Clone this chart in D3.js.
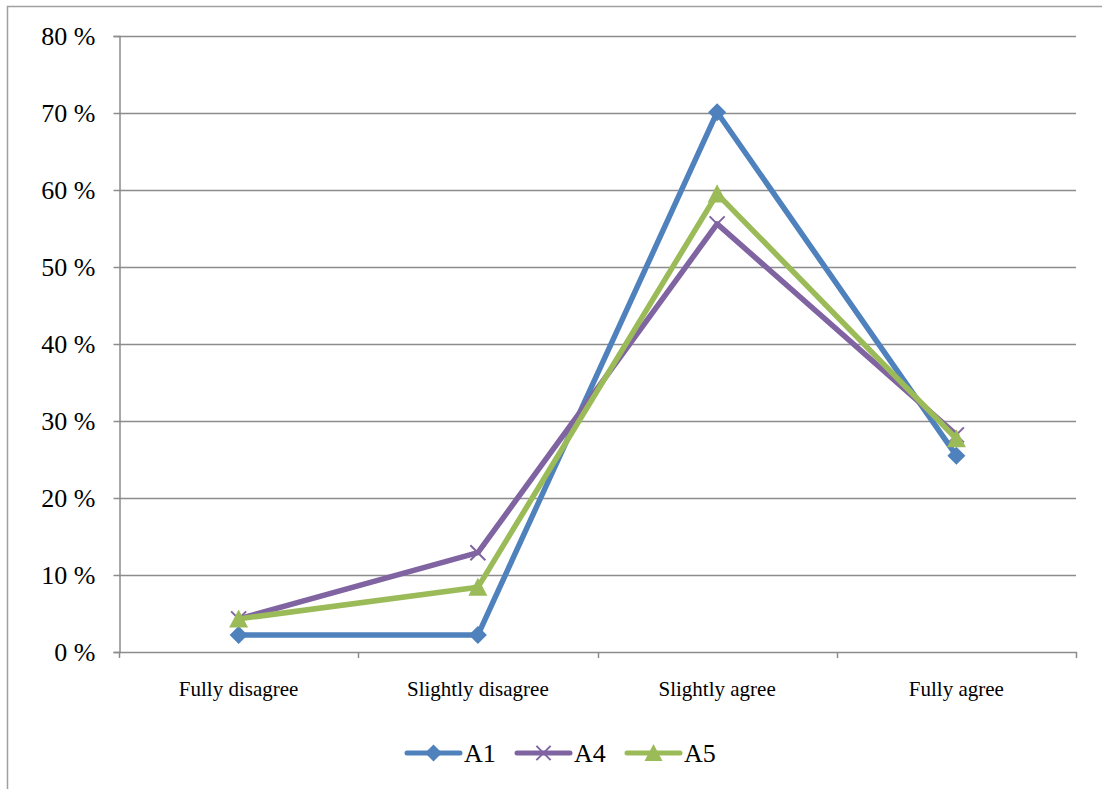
<!DOCTYPE html>
<html>
<head>
<meta charset="utf-8">
<script src="https://cdn.jsdelivr.net/npm/d3@7"></script>
<style>
  html, body { margin: 0; padding: 0; background: #fff; }
  svg { display: block; font-family: "Liberation Serif", "DejaVu Serif", serif; }
</style>
</head>
<body>
<svg id="chart" width="1102" height="789"></svg>
<script>
// Answer categories along the x axis
const categories = ["Fully disagree", "Slightly disagree", "Slightly agree", "Fully agree"];

// Share of answers (%) per item
const seriesNames = ["A1", "A4", "A5"];
const valuesA1 = [2.2, 2.2, 70.1, 25.5];
const valuesA4 = [4.3, 12.9, 55.6, 28.2];
const valuesA5 = [4.3, 8.4, 59.5, 27.7];

// Y axis ticks (%)
const yTicks = [0, 10, 20, 30, 40, 50, 60, 70, 80];

const colors = { A1: "#4F81BD", A4: "#8064A2", A5: "#9BBB59" };
const markers = { A1: "diamond", A4: "cross", A5: "triangle" };

const series = [
  { name: "A1", values: valuesA1 },
  { name: "A4", values: valuesA4 },
  { name: "A5", values: valuesA5 }
];

const svg = d3.select("#chart");
const W = 1102, H = 789;

// Outer chart frame (extends past the right/bottom of the canvas)
svg.append("rect")
  .attr("x", 7.5).attr("y", 6.5)
  .attr("width", W + 20).attr("height", H + 20)
  .attr("fill", "none").attr("stroke", "#a0a0a0").attr("stroke-width", 1.5);

const plot = { left: 119, right: 1076, top: 36, bottom: 652 };

const x = d3.scaleBand().domain(categories).range([plot.left, plot.right]).paddingInner(0).paddingOuter(0);
const y = d3.scaleLinear().domain([0, 80]).range([plot.bottom, plot.top]);

const gridColor = "#8c8c8c";

// Horizontal gridlines
svg.append("g").selectAll("line").data(yTicks.filter(t => t > 0)).join("line")
  .attr("x1", plot.left).attr("x2", plot.right)
  .attr("y1", d => Math.round(y(d)) + 0.5).attr("y2", d => Math.round(y(d)) + 0.5)
  .attr("stroke", gridColor).attr("stroke-width", 1.5);

// Y axis
const yAxis = d3.axisLeft(y).tickValues(yTicks).tickSize(6).tickPadding(18)
  .tickFormat(d => d + " %");
const gy = svg.append("g").attr("transform", `translate(${plot.left + 0.5},0)`).call(yAxis);
gy.select(".domain").attr("stroke", gridColor).attr("stroke-width", 1.5);
gy.selectAll(".tick line").attr("stroke", gridColor).attr("stroke-width", 1.5);
gy.selectAll(".tick text").attr("fill", "#000").style("font-size", "26px")
  .style("font-family", "'Liberation Serif', serif").attr("dy", "0.33em");

// X axis: baseline, boundary ticks and category labels
const boundaries = categories.map(c => x(c)).concat([x(categories[categories.length - 1]) + x.bandwidth()]);
svg.append("line")
  .attr("x1", plot.left).attr("x2", plot.right + 1)
  .attr("y1", plot.bottom + 0.5).attr("y2", plot.bottom + 0.5)
  .attr("stroke", gridColor).attr("stroke-width", 1.5);
svg.append("g").selectAll("line").data(boundaries).join("line")
  .attr("x1", d => Math.round(d) + 0.5).attr("x2", d => Math.round(d) + 0.5)
  .attr("y1", plot.bottom).attr("y2", plot.bottom + 6)
  .attr("stroke", gridColor).attr("stroke-width", 1.5);
svg.append("g").selectAll("text").data(categories).join("text")
  .attr("x", d => x(d) + x.bandwidth() / 2)
  .attr("y", 696)
  .attr("text-anchor", "middle")
  .style("font-size", "21px")
  .attr("fill", "#000")
  .text(d => d);

// Marker drawing
function drawMarker(g, type, color, cx, cy, scale) {
  const s = scale || 1;
  if (type === "diamond") {
    const r = 9 * s;
    g.append("path")
      .attr("d", `M${cx},${cy - r}L${cx + r},${cy}L${cx},${cy + r}L${cx - r},${cy}Z`)
      .attr("fill", color);
  } else if (type === "triangle") {
    const r = 9.5 * s;
    g.append("path")
      .attr("d", `M${cx},${cy - r}L${cx + r},${cy + r * 0.9}L${cx - r},${cy + r * 0.9}Z`)
      .attr("fill", color);
  } else if (type === "cross") {
    const r = 7.5 * s;
    g.append("path")
      .attr("d", `M${cx - r},${cy - r}L${cx + r},${cy + r}M${cx + r},${cy - r}L${cx - r},${cy + r}`)
      .attr("stroke", color).attr("stroke-width", 2).attr("fill", "none");
  }
}

const line = d3.line()
  .x((d, i) => x(categories[i]) + x.bandwidth() / 2)
  .y(d => y(d));

const gSeries = svg.append("g");
series.forEach(s => {
  gSeries.append("path")
    .datum(s.values)
    .attr("d", line)
    .attr("fill", "none")
    .attr("stroke", colors[s.name])
    .attr("stroke-width", 5.5)
    .attr("stroke-linejoin", "round")
    .attr("stroke-linecap", "round");
  const gm = gSeries.append("g");
  s.values.forEach((v, i) => {
    drawMarker(gm, markers[s.name], colors[s.name], x(categories[i]) + x.bandwidth() / 2, y(v));
  });
});

// Legend
const legendY = 753;
const legendX = [407, 517, 627];
const legend = svg.append("g");
seriesNames.forEach((name, i) => {
  const lx = legendX[i];
  legend.append("line")
    .attr("x1", lx).attr("x2", lx + 53)
    .attr("y1", legendY).attr("y2", legendY)
    .attr("stroke", colors[name]).attr("stroke-width", 5).attr("stroke-linecap", "round");
  drawMarker(legend, markers[name], colors[name], lx + 26.5, legendY, 0.95);
  legend.append("text")
    .attr("x", lx + 57).attr("y", legendY)
    .attr("dy", "0.35em")
    .style("font-size", "26px")
    .attr("fill", "#000")
    .text(name);
});
</script>
</body>
</html>
